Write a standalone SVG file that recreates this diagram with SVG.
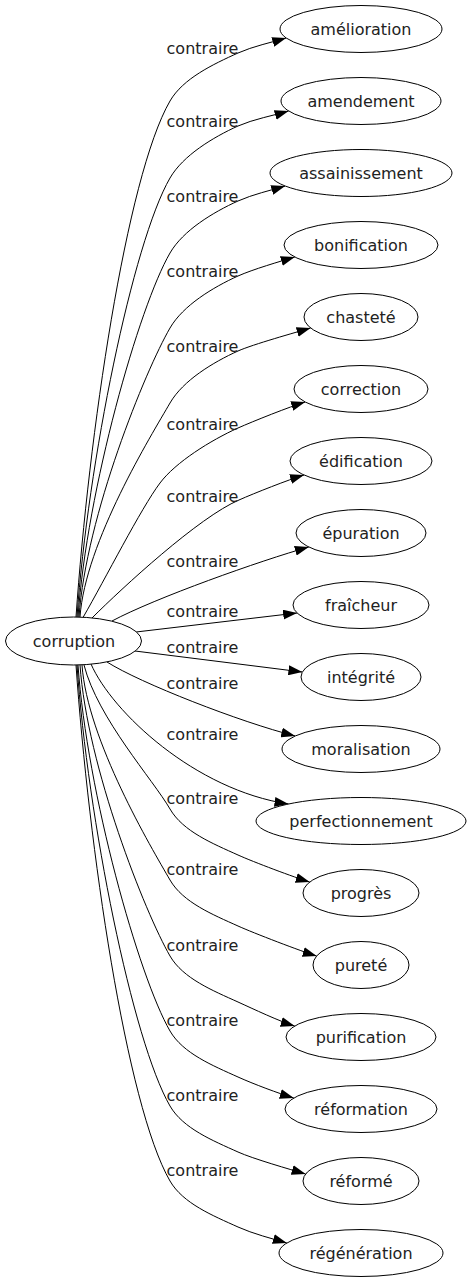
<svg xmlns="http://www.w3.org/2000/svg" width="471" height="1283" viewBox="0 0 471 1283">
<defs>
<style>
.n ellipse{fill:#fff;stroke:#000;stroke-width:1}
.n text,.lb{font-family:"DejaVu Sans","Noto Sans",sans-serif;font-size:16px;fill:#222;text-anchor:middle}
.e path{fill:none;stroke:#000;stroke-width:1;marker-end:url(#ah)}
</style>
<marker id="ah" markerUnits="userSpaceOnUse" markerWidth="14" markerHeight="10" viewBox="0 0 13 9.2" refX="13" refY="4.6" orient="auto"><path d="M0,0 L13,4.6 L0,9.2 Z" fill="#000"/></marker>
</defs>
<rect width="471" height="1283" fill="#fff"/>
<g id="connectors" class="e">
<g id="e0"><path d="M76,617 C88.6,436.4 126.1,177 170,101 C183,78.5 213,64.3 238,53 C253,46.3 271.2,42.5 286.2,38"/><text class="lb" x="202.5" y="54">contraire</text></g>
<g id="e1"><path d="M77,617 C87.8,463.3 132.7,242.6 170,178 C183,155.5 213,137.3 238,126 C253,119.3 273.6,115.5 288.6,111"/><text class="lb" x="202.5" y="127">contraire</text></g>
<g id="e2"><path d="M78,617 C86.9,489.6 139,306.6 170,253 C183,230.5 213,212.3 238,201 C253,194.3 270.2,190.5 285.2,186"/><text class="lb" x="202.5" y="202">contraire</text></g>
<g id="e3"><path d="M79,617 C86.1,515.8 145.4,370.5 170,328 C183,305.5 213,287.3 238,276 C253,269.3 279.8,261.5 294.8,257"/><text class="lb" x="202.5" y="277">contraire</text></g>
<g id="e4"><path d="M80,617 C85.2,542.1 151.8,434.5 170,403 C183,380.5 213,362.3 238,351 C253,344.3 295.6,332.5 310.6,328"/><text class="lb" x="202.5" y="352">contraire</text></g>
<g id="e5"><path d="M83,617.5 C105.5,578.5 140.8,508.6 160,483 C175.6,462.2 210.7,440.3 238,428 C253,421.3 290.2,406.5 305.2,402"/><text class="lb" x="202.5" y="430">contraire</text></g>
<g id="e6"><path d="M92,618 C122,588 199,517 239,500 C254,493.3 289,479.5 304,475"/><text class="lb" x="202.5" y="502">contraire</text></g>
<g id="e7"><path d="M112,621 C155,598 260.8,560.5 308.8,547"/><text class="lb" x="202.5" y="567">contraire</text></g>
<g id="e8"><path d="M136,632 L297.1,613"/><text class="lb" x="202.5" y="617">contraire</text></g>
<g id="e9"><path d="M135,651 L302.4,672"/><text class="lb" x="202.5" y="653">contraire</text></g>
<g id="e10"><path d="M107,662 C140,683 240,722 295.2,736"/><text class="lb" x="202.5" y="689">contraire</text></g>
<g id="e11"><path d="M91,664 C112,712 195,790 288.5,804"/><text class="lb" x="202.5" y="740">contraire</text></g>
<g id="e12"><path d="M84,665 C97.8,718.4 153,779.6 170,809 C183,831.5 213,843.7 238,855 C253,861.8 294.7,877.5 309.7,882"/><text class="lb" x="202.5" y="804">contraire</text></g>
<g id="e13"><path d="M82,665 C87.3,740.3 151.7,848.3 170,880 C183,902.5 213,914.7 238,926 C253,932.8 301.7,951.5 316.7,956"/><text class="lb" x="202.5" y="875">contraire</text></g>
<g id="e14"><path d="M80,665 C87.1,766.9 145.3,913.1 170,956 C183,978.5 213,990.7 238,1002 C253,1008.8 279.7,1021.5 294.7,1026"/><text class="lb" x="202.5" y="951">contraire</text></g>
<g id="e15"><path d="M78,665 C87,793.1 138.9,977.1 170,1031 C183,1053.5 213,1065.7 238,1077 C253,1083.8 278.8,1093.5 293.8,1098"/><text class="lb" x="202.5" y="1026">contraire</text></g>
<g id="e16"><path d="M77,665 C87.8,819.4 132.5,1041 170,1106 C183,1128.5 213,1140.7 238,1152 C253,1158.8 290.6,1169.5 305.6,1174"/><text class="lb" x="202.5" y="1101">contraire</text></g>
<g id="e17"><path d="M76,665 C88.6,845.6 126.1,1105 170,1181 C183,1203.5 213,1215.7 238,1227 C253,1233.8 271.8,1238.5 286.8,1243"/><text class="lb" x="202.5" y="1176">contraire</text></g>
</g>
<g id="nodes" class="n">
<g id="corruption"><ellipse cx="73.5" cy="641" rx="68" ry="24"/><text x="74" y="646.5">corruption</text></g>
<g id="amelioration"><ellipse cx="361" cy="29" rx="81" ry="23.5"/><text x="361" y="34.5">amélioration</text></g>
<g id="amendement"><ellipse cx="361" cy="101" rx="80" ry="23.5"/><text x="361" y="106.5">amendement</text></g>
<g id="assainissement"><ellipse cx="361" cy="173" rx="91" ry="23.5"/><text x="361" y="178.5">assainissement</text></g>
<g id="bonification"><ellipse cx="361" cy="245" rx="77" ry="23.5"/><text x="361" y="250.5">bonification</text></g>
<g id="chastete"><ellipse cx="361" cy="317" rx="57" ry="23.5"/><text x="361" y="322.5">chasteté</text></g>
<g id="correction"><ellipse cx="361" cy="389" rx="67" ry="23.5"/><text x="361" y="394.5">correction</text></g>
<g id="edification"><ellipse cx="361" cy="461" rx="71" ry="23.5"/><text x="361" y="466.5">édification</text></g>
<g id="epuration"><ellipse cx="361" cy="533" rx="65" ry="23.5"/><text x="361" y="538.5">épuration</text></g>
<g id="fraicheur"><ellipse cx="361" cy="605" rx="68" ry="23.5"/><text x="361" y="610.5">fraîcheur</text></g>
<g id="integrite"><ellipse cx="361" cy="677" rx="60" ry="23.5"/><text x="361" y="682.5">intégrité</text></g>
<g id="moralisation"><ellipse cx="361" cy="749" rx="79" ry="23.5"/><text x="361" y="754.5">moralisation</text></g>
<g id="perfectionnement"><ellipse cx="361" cy="821" rx="105" ry="23.5"/><text x="361" y="826.5">perfectionnement</text></g>
<g id="progres"><ellipse cx="361" cy="893" rx="58" ry="23.5"/><text x="361" y="898.5">progrès</text></g>
<g id="purete"><ellipse cx="361" cy="965" rx="48" ry="23.5"/><text x="361" y="970.5">pureté</text></g>
<g id="purification"><ellipse cx="361" cy="1037" rx="75" ry="23.5"/><text x="361" y="1042.5">purification</text></g>
<g id="reformation"><ellipse cx="361" cy="1109" rx="76" ry="23.5"/><text x="361" y="1114.5">réformation</text></g>
<g id="reforme"><ellipse cx="361" cy="1181" rx="58" ry="23.5"/><text x="361" y="1186.5">réformé</text></g>
<g id="regeneration"><ellipse cx="361" cy="1253" rx="82" ry="23.5"/><text x="361" y="1258.5">régénération</text></g>
</g>
</svg>
